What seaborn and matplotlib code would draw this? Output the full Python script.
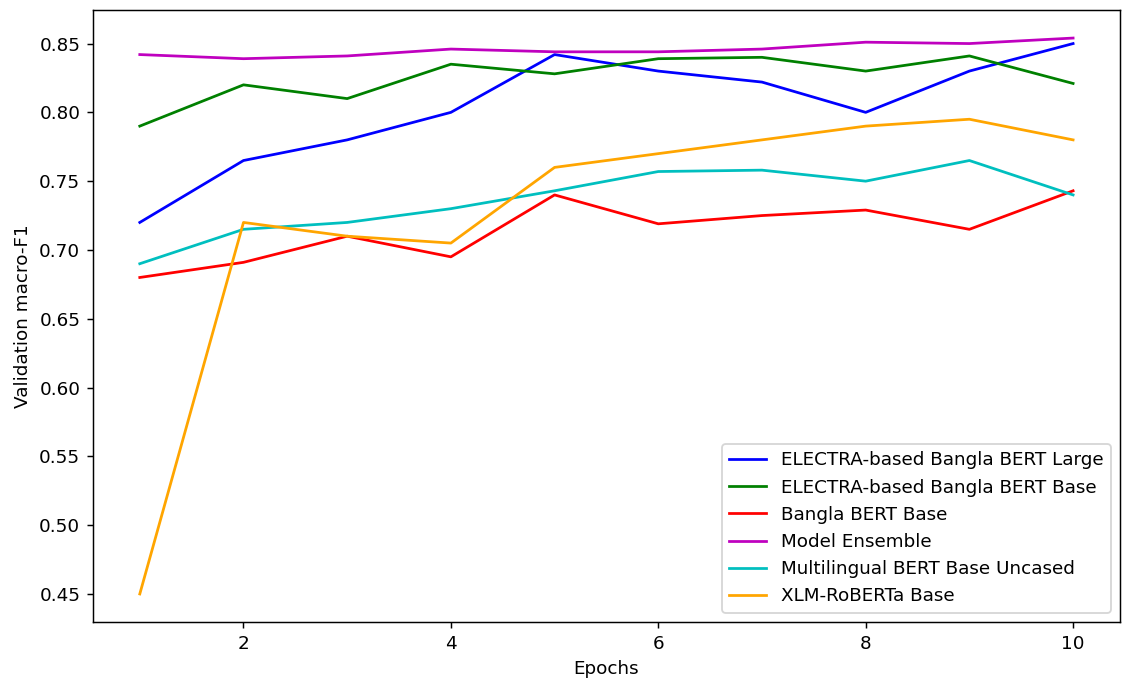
import matplotlib
matplotlib.use("Agg")
import matplotlib.pyplot as plt
import seaborn as sns
import pandas as pd

epochs = [1, 2, 3, 4, 5, 6, 7, 8, 9, 10]
electra_large = [0.720, 0.765, 0.780, 0.800, 0.842, 0.830, 0.822, 0.800, 0.830, 0.850]
electra_base = [0.790, 0.820, 0.810, 0.835, 0.828, 0.839, 0.840, 0.830, 0.841, 0.821]
bangla_bert = [0.680, 0.691, 0.710, 0.695, 0.740, 0.719, 0.725, 0.729, 0.715, 0.743]
ensemble = [0.842, 0.839, 0.841, 0.846, 0.844, 0.844, 0.846, 0.851, 0.850, 0.854]
mbert = [0.690, 0.715, 0.720, 0.730, 0.743, 0.757, 0.758, 0.750, 0.765, 0.740]
xlmr = [0.450, 0.720, 0.710, 0.705, 0.760, 0.770, 0.780, 0.790, 0.795, 0.780]

names = [
    "ELECTRA-based Bangla BERT Large",
    "ELECTRA-based Bangla BERT Base",
    "Bangla BERT Base",
    "Model Ensemble",
    "Multilingual BERT Base Uncased",
    "XLM-RoBERTa Base",
]
series = [electra_large, electra_base, bangla_bert, ensemble, mbert, xlmr]
colors = ["b", "g", "r", "m", "c", "orange"]

DPI = 132
fig, ax = plt.subplots(figsize=(1122 / DPI, 684 / DPI), dpi=DPI)
fig.subplots_adjust(left=0.083, right=0.998, top=0.985, bottom=0.091)

for name, vals, col in zip(names, series, colors):
    df = pd.DataFrame({"Epochs": epochs, "F1": vals})
    sns.lineplot(data=df, x="Epochs", y="F1", color=col, label=name, ax=ax, linewidth=1.5)

ax.set_xlabel("Epochs")
ax.set_ylabel("Validation macro-F1")
ax.legend(loc="lower right")

fig.savefig("out.png", dpi=DPI)
